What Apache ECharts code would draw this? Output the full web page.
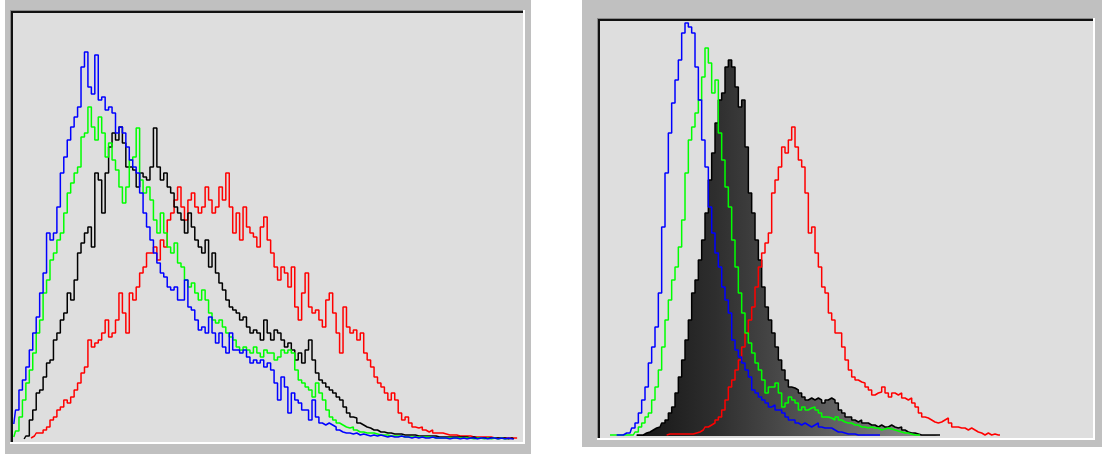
<!DOCTYPE html>
<html><head><meta charset="utf-8">
<script src="https://cdn.jsdelivr.net/npm/echarts@6/dist/echarts.min.js"></script>
<style>html,body{margin:0;padding:0;background:#fff;}#c{width:1105px;height:454px;}</style>
</head><body><div id="c"></div>
<script>
// ---- Left histogram (bin index, counts) ----
const leftBlueStart = 0;
const leftBlue = [15,29,49,59,72,89,106,122,146,166, 206,199,206,232,266,282,299,312,322,332, 372,387,352,345,384,339,342,329,332,326, 306,312,306,292,279,272,266,246,226,212, 199,186,176,166,162,152,149,152,139,139, 159,132,129,119,109,112,106,122,106,96, 106,92,86,106,89,89,86,89,82,76, 79,76,79,72,76,69,56,39,62,52, 26,46,39,36,29,29,19,39,22,16, 14,16,14,12,9,7,6,6,5,6, 4,5,4,3,4,3,4,3,2,3, 2,2,3,2,2,1,2,1,2,1, 1,2,1,1,1,1,0,1,1,0, 1,0,1,1,0,1,1,0,1,1, 0,1,0,1,0,0];
const leftGreenStart = 0;
const leftGreen = [2,8,22,39,56,69,86,106,119,146, 159,179,186,199,206,226,246,256,266,272, 302,306,332,312,299,322,306,282,296,279, 269,252,236,252,279,282,311,259,246,252, 239,219,206,226,206,192,186,196,176,172, 159,152,156,146,139,149,139,126,119,116, 119,112,106,102,99,92,89,92,89,86, 92,86,82,89,86,86,79,82,89,86, 89,86,69,59,56,52,49,42,56,46, 39,29,22,19,16,14,12,11,12,9, 7,7,6,6,6,5,4,4,4,3, 3,3,3,2,2,2,2,2,2,2, 2,2,1,1,1,1,1,1,1,1, 1,1,1,0,1,1,0,1,0,1, 0,1,0,0];
const leftBlackStart = 3;
const leftBlack = [0,3,19,29,46,49,62, 76,79,99,106,119,126,146,139,159,186, 196,206,212,192,266,259,226,266,292,306, 299,312,296,272,272,269,252,266,262,259, 272,311,272,259,266,252,246,232,226,219, 206,226,212,199,192,186,199,172,186,166, 156,149,139,132,129,126,119,122,112,106, 109,106,99,119,106,99,109,106,99,92, 96,89,79,86,76,89,99,79,66,59, 56,52,49,46,42,39,32,26,22,21, 16,14,12,11,9,9,7,7,6,6, 5,5,5,4,4,4,4,3,3,3, 3,3,3,2,2,2,2,2,2,2, 2,2,1,2,1,1,1,1,1,1, 1,1,1,0,1,0];
const leftRedStart = 5;
const leftRed = [1,3,6,6,9, 12,19,22,29,32,39,36,42,49,56, 66,72,99,92,96,99,106,119,102,106, 119,146,126,106,146,139,152,166,172,186, 186,192,179,199,192,219,226,239,252,232, 219,239,246,232,226,232,252,239,226,232, 252,239,266,232,206,226,199,232,212,206, 202,192,212,222,199,186,172,159,172,166, 152,172,132,119,146,166,132,126,129,119, 112,139,146,126,106,86,132,112,106,109, 99,106,86,79,72,62,56,52,46,39, 46,39,26,19,22,16,12,11,12,9, 7,9,6,6,6,5,4,4,4,3, 3,3,3,2,2,2,2,2,2,1, 1,1,1,1,1,1,1];

// ---- Right histogram ----
const rightBlueStart = 5;
const rightBlue = [1,1,1,3,3, 8,13,23,36,49,73,89,109,143,209, 263,303,333,356,376,403,413,409,403,369, 336,296,269,229,203,183,169,149,136,123, 96,86,79,73,66,59,46,43,39,36, 33,29,31,26,26,23,19,16,16,13, 11,13,11,9,11,13,9,8,8,8, 6,4,4,3,2,2,2,1,1,1, 1,1,1,1,1];
const rightGreenStart = 3;
const rightGreen = [1,1,1,1,1,1,1, 1,4,9,13,19,23,36,49,66,89, 116,136,156,169,189,216,263,296,309,323, 336,359,388,373,343,356,303,276,249,229, 196,169,143,123,103,93,83,73,66,56, 43,49,49,53,43,29,33,39,36,33, 26,29,26,28,29,26,23,19,19,18, 16,19,16,14,13,13,11,11,9,9, 8,9,8,8,6,7,8,7,6,5, 4,3,3,2,1,1,1];
const rightBlackStart = 11;
const rightBlack = [1,1,1,3,4,6,8,9,13, 16,23,29,43,59,76,96,116,143,156, 176,196,223,256,283,313,336,343,369,376, 369,349,329,336,289,243,223,196,176,149, 129,116,103,89,76,66,56,49,48,46, 43,39,36,38,36,38,36,33,36,38, 36,33,26,23,19,19,16,14,16,13, 13,11,11,9,11,9,9,11,9,8, 9,6,4,3,3,2,1,1,1,1,1,1,1];
const rightRedStart = 20;
const rightRed = [1,2,2,2,2,2,2,2,2,3, 4,6,9,11,13,16,19,26,36,49, 56,66,76,89,103,116,129,149,169,183, 193,203,243,256,269,289,283,296,309,289, 276,269,243,203,209,183,169,149,143,123, 116,103,103,89,76,66,59,56,54,53, 49,46,41,43,44,49,43,39,43,41, 43,38,36,38,33,29,23,19,18,16, 14,13,14,16,18,13,9,9,8,8, 6,8,6,4,3,1,3,1,2,1,1];

const binMax = 147.5;
const leftYMax = 426;
const rightYMax = 415;

function pts(arr, start) { return arr.map((v, k) => [start + k, v]); }

const chart = echarts.init(document.getElementById('c'), null, {renderer: 'canvas'});

function lineSeries(idx, data, color, extra) {
  return Object.assign({
    type: 'line', xAxisIndex: idx, yAxisIndex: idx, data: data,
    step: 'middle', symbol: 'none', showSymbol: false, silent: true,
    lineStyle: {color: color, width: 1.5}, itemStyle: {color: color},
    animation: false, clip: true
  }, extra || {});
}

function frame(x0, y0, x1, y1) {
  // sunken frame: x0,y0 = top-left of dark border; x1,y1 = bottom-right of light area
  return [
    {type: 'rect', shape: {x: x0, y: y0, width: x1 - x0 + 2, height: y1 - y0 + 2}, style: {fill: '#ffffff'}, z: -5},
    {type: 'rect', shape: {x: x0, y: y0, width: x1 - x0, height: y1 - y0}, style: {fill: '#8a8a8a'}, z: -5},
    {type: 'rect', shape: {x: x0 + 1, y: y0 + 1, width: x1 - x0 - 1, height: y1 - y0 - 1}, style: {fill: '#111111'}, z: -5},
    {type: 'rect', shape: {x: x0 + 3, y: y0 + 3, width: x1 - x0 - 3, height: y1 - y0 - 3}, style: {fill: '#dedede'}, z: -5}
  ];
}

const grad = new echarts.graphic.LinearGradient(0, 0, 1, 0, [
  {offset: 0, color: '#151515'}, {offset: 0.26, color: '#2e2e2e'},
  {offset: 0.48, color: '#4a4a4a'}, {offset: 0.69, color: '#666666'},
  {offset: 0.86, color: '#808080'}, {offset: 1, color: '#909090'}
]);

const hiddenAxis = {show: false, splitLine: {show: false}};

chart.setOption({
  animation: false,
  backgroundColor: '#ffffff',
  graphic: [
    {type: 'rect', shape: {x: 5, y: 0, width: 526, height: 454}, style: {fill: '#c0c0c0'}, z: -6},
    {type: 'rect', shape: {x: 582, y: 0, width: 520, height: 447}, style: {fill: '#c0c0c0'}, z: -6}
  ].concat(frame(10, 10, 523, 442)).concat(frame(597, 18, 1093, 438)),
  grid: [
    {left: 13.8, top: 13, width: 508.5, height: leftYMax},
    {left: 600, top: 21, width: 491.7, height: rightYMax}
  ],
  xAxis: [
    Object.assign({type: 'value', gridIndex: 0, min: 0, max: binMax}, hiddenAxis),
    Object.assign({type: 'value', gridIndex: 1, min: 0, max: binMax}, hiddenAxis)
  ],
  yAxis: [
    Object.assign({type: 'value', gridIndex: 0, min: 0, max: leftYMax}, hiddenAxis),
    Object.assign({type: 'value', gridIndex: 1, min: 0, max: rightYMax}, hiddenAxis)
  ],
  series: [
    lineSeries(0, pts(leftRed, leftRedStart), '#ff0000'),
    lineSeries(0, pts(leftBlack, leftBlackStart), '#000000'),
    lineSeries(0, pts(leftGreen, leftGreenStart), '#00ff00'),
    lineSeries(0, pts(leftBlue, leftBlueStart), '#0000ff'),
    lineSeries(1, pts(rightBlack, rightBlackStart), '#000000', {areaStyle: {color: grad, opacity: 1}}),
    lineSeries(1, pts(rightRed, rightRedStart), '#ff0000'),
    lineSeries(1, pts(rightGreen, rightGreenStart), '#00ff00'),
    lineSeries(1, pts(rightBlue, rightBlueStart), '#0000ff')
  ]
});
</script>
</body></html>
